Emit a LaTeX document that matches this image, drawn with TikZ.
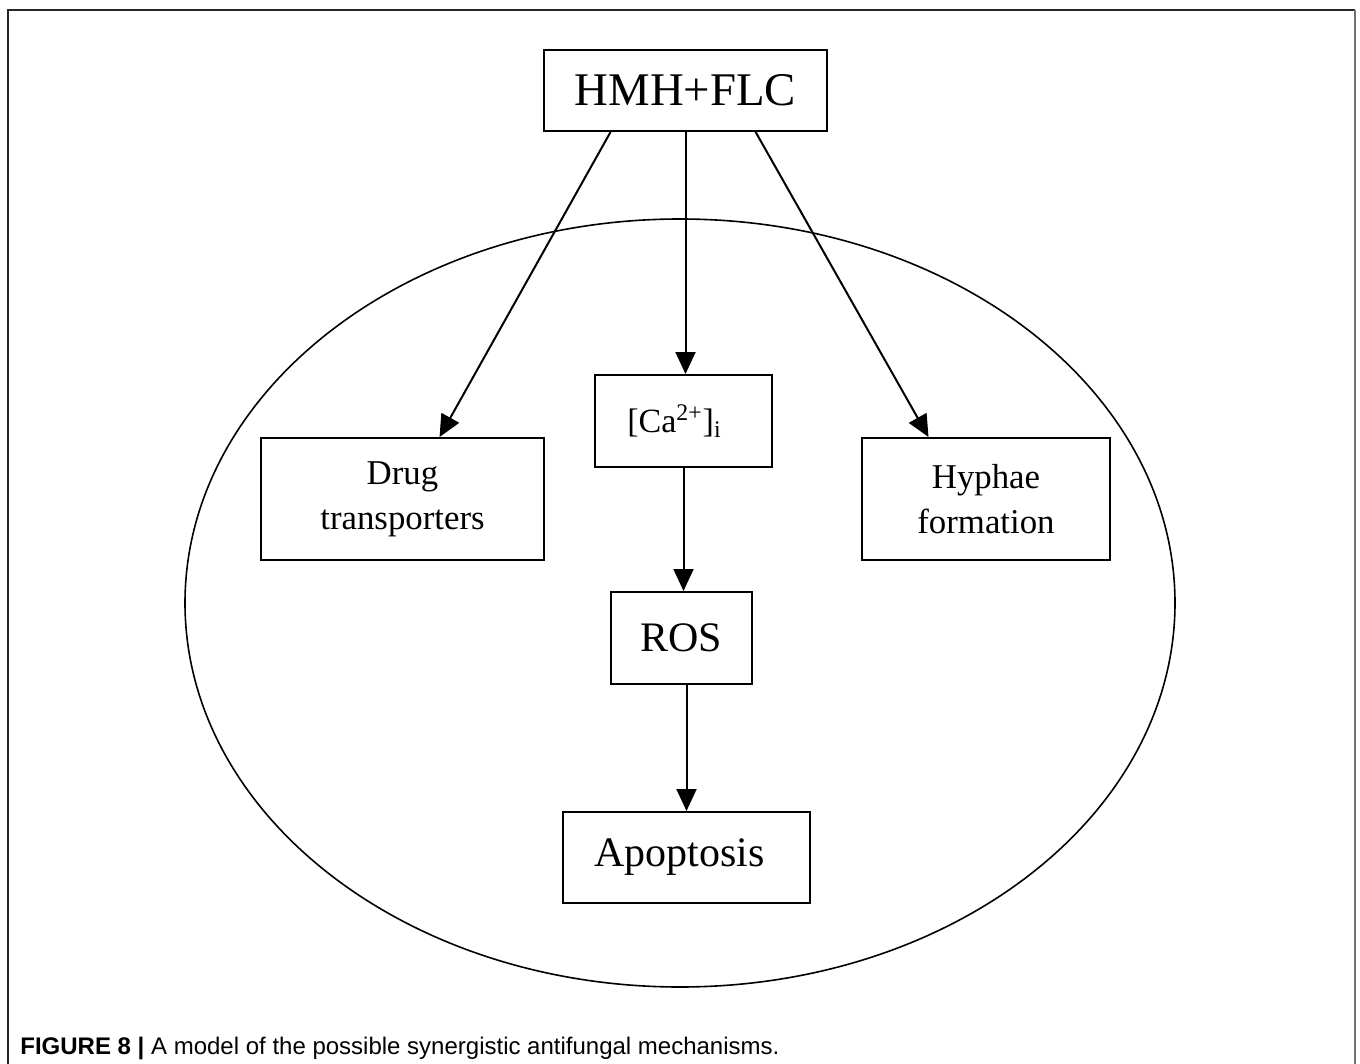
\documentclass[tikz,border=0pt]{standalone}
\usepackage{fontspec}
\setmainfont{Liberation Serif}
\newfontfamily\capfont{Liberation Sans}
\usetikzlibrary{arrows.meta, calc}
\tikzset{
  box/.style={rectangle, draw, line width=1pt, inner sep=0pt, align=center},
  arrow/.style={-{Triangle[length=11pt, width=10pt]}, line width=1pt},
  cell/.style={line width=0.8pt}
}
\begin{document}
\begin{tikzpicture}[x=0.5pt, y=-0.5pt]
  \useasboundingbox (0,0) rectangle (1360,1064);
  % frame
  \draw[line width=0.9pt, black!85] (8,1064) -- (8,10) -- (1355,10);
  \draw[line width=1.1pt, black!55] (1355,10) -- (1355,1064);
  % cell
  \draw[cell] (680,603) ellipse [x radius=495, y radius=384];
  % nodes
  \node[box, minimum width=141.5pt, minimum height=40.5pt, font=\fontsize{23.4}{28}\selectfont] (hmh) at (685.5,90.5) {HMH+FLC};
  \node[box, minimum width=88.5pt, minimum height=46pt, font=\fontsize{17}{22}\selectfont] (ca) at (683.5,421) {[Ca\textsuperscript{2+}]\textsubscript{i}\hspace*{9pt}};
  \node[box, minimum width=141.5pt, minimum height=61pt, font=\fontsize{17.4}{22.5}\selectfont] (drug) at (402.5,499) {Drug\\transporters};
  \node[box, minimum width=124pt, minimum height=61pt, font=\fontsize{17.4}{22.5}\selectfont] (hyph) at (986,499) {Hyphae\\formation};
  \node[box, minimum width=70.5pt, minimum height=46pt, font=\fontsize{21}{25}\selectfont] (ros) at (681.5,638) {ROS};
  \node[box, minimum width=123.5pt, minimum height=45.5pt, font=\fontsize{21}{25}\selectfont] (apo) at (686.5,857.5) {Apoptosis\hspace*{7pt}};
  % arrows
  \draw[arrow] ($(hmh.south west)!0.237!(hmh.south east)$) -- ($(drug.north west)!0.63!(drug.north east)$);
  \draw[arrow] (hmh.south) -- (hmh.south |- ca.north);
  \draw[arrow] ($(hmh.south west)!0.746!(hmh.south east)$) -- ($(hyph.north west)!0.27!(hyph.north east)$);
  \draw[arrow] (ca.south) -- (ca.south |- ros.north);
  \draw[arrow] (ros.south -| apo.north) -- (apo.north);
  % caption
  \node[anchor=west, inner sep=0pt, font=\capfont\fontsize{12}{14}\selectfont] (caption) at (20,1048) {\textbf{FIGURE 8 |} A model of the possible synergistic antifungal mechanisms.};
\end{tikzpicture}
\end{document}
